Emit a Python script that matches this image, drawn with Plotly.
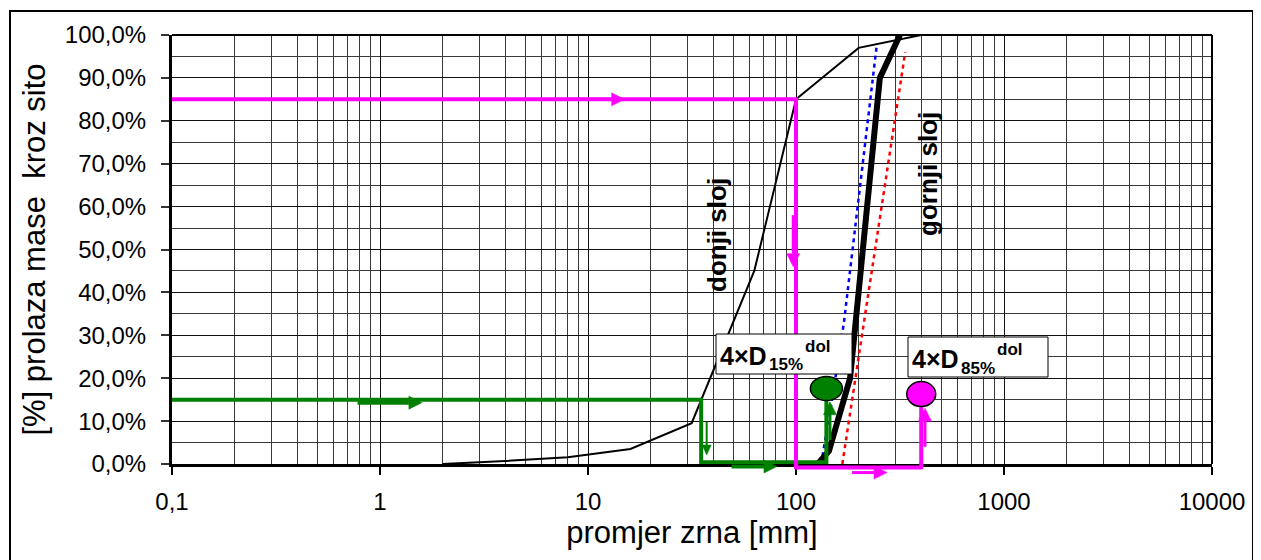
import math
import plotly.graph_objects as go

# ---------------- data ----------------
x_tick_vals = [0.1, 1, 10, 100, 1000, 10000]
x_tick_text = ["0,1", "1", "10", "100", "1000", "10000"]
x_minor_vals = [k * 10 ** e for e in range(-1, 4) for k in range(2, 10)]
y_tick_vals = [0, 10, 20, 30, 40, 50, 60, 70, 80, 90, 100]
y_tick_text = ["0,0%", "10,0%", "20,0%", "30,0%", "40,0%", "50,0%",
               "60,0%", "70,0%", "80,0%", "90,0%", "100,0%"]
y_minor_vals = [5, 15, 25, 35, 45, 55, 65, 75, 85, 95]

# donji sloj (lower layer) grading curve
donji_d = [2, 4, 8, 16, 31.5, 63, 100, 200, 400]
donji_p = [0, 0.7, 1.6, 3.5, 9.5, 45, 85, 97, 100]

# gornji sloj (upper layer) grading curve
gornji_d = [127, 144, 182, 253, 316]
gornji_p = [0, 3, 20, 90, 100]

# envelope curves (dotted)
lower_env_d = [132, 148, 170, 245]
lower_env_p = [0, 14, 33, 98]
upper_env_d = [167, 335]
upper_env_p = [0, 96]

# filter criteria
D15_dol = 35
D85_dol = 100
p15 = 15
p85 = 85
green_base_p = 0.4
magenta_base_p = -0.8
mark15_p = 17.6
mark85_p = 16.3

# direction arrows: (colour key, shaft width, tail x, tail y, tip x, tip y, direction)
arrow_specs = [
    ("m", 3, 8, 85, 15, 85, "right"),
    ("m", 3, 97, 58, 97, 46, "down"),
    ("m", 3, 186, -2.0, 274, -2.0, "right"),
    ("m", 3, 417, 4, 417, 13, "up"),
    ("g", 4, 0.78, 14.3, 1.59, 14.3, "right"),
    ("g", 2, 37.2, 9.9, 37.2, 2.1, "down"),
    ("g", 4, 49, -0.6, 81, -0.6, "right"),
    ("g", 3, 145.6, 5.6, 145.6, 14.5, "up"),
]

# label texts
label_main = "4×D"
label_subs = ["15%", "85%"]
label_sup = "dol"
layer_labels = ["donji sloj", "gornji sloj"]

MAG = "#FF00FF"
GRN = "#008000"
COLS = {"m": MAG, "g": GRN}
FONT = "Liberation Sans, Arial, sans-serif"

# layout geometry (pixels; page body adds an 8 px offset)
W, H = 1253, 552
ML, MR, MT, MB = 164, 49, 27, 96
PW = W - ML - MR
PH = H - MT - MB
X_DECADES = 5.0
PX_PER_DECADE = PW / X_DECADES
OFF = 8  # body margin of the page
SX0, SY0 = ML + OFF, MT + OFF + PH  # screen position of plot origin (bottom-left)


def xfac(px):
    return 10 ** (px / PX_PER_DECADE)


def ypap(px):
    return px / PH


def px2paper_x(sx):
    return (sx - SX0) / PW


def px2paper_y(sy):
    return (SY0 - sy) / PH


fig = go.Figure()

fig.add_trace(go.Scatter(x=donji_d, y=donji_p, mode="lines",
                         line=dict(color="black", width=2), showlegend=False))
fig.add_trace(go.Scatter(x=lower_env_d, y=lower_env_p, mode="lines",
                         line=dict(color="#0000FF", width=2.5, dash="4px,4px"), showlegend=False))
fig.add_trace(go.Scatter(x=upper_env_d, y=upper_env_p, mode="lines",
                         line=dict(color="#FF0000", width=2.5, dash="4px,4px"), showlegend=False))
fig.add_trace(go.Scatter(x=gornji_d, y=gornji_p, mode="lines",
                         line=dict(color="black", width=6), showlegend=False))

# green construction path
fig.add_trace(go.Scatter(x=[0.1, D15_dol, D15_dol, 4 * D15_dol, 4 * D15_dol],
                         y=[p15, p15, green_base_p, green_base_p, mark15_p],
                         mode="lines", line=dict(color=GRN, width=4), showlegend=False))
# magenta construction path
fig.add_trace(go.Scatter(x=[0.1, D85_dol, D85_dol], y=[p85, p85, 0],
                         mode="lines", line=dict(color=MAG, width=4), showlegend=False))
fig.add_trace(go.Scatter(x=[4 * D85_dol, 4 * D85_dol], y=[0, mark85_p],
                         mode="lines", line=dict(color=MAG, width=4), showlegend=False))

shapes = []
# magenta parts below the x axis
mb = magenta_base_p / 100.0
shapes.append(dict(type="line", xref="x", yref="paper", x0=D85_dol, x1=4 * D85_dol,
                   y0=mb, y1=mb, line=dict(color=MAG, width=4)))
shapes.append(dict(type="line", xref="x", yref="paper", x0=D85_dol, x1=D85_dol,
                   y0=0.003, y1=mb - 0.004, line=dict(color=MAG, width=4)))
shapes.append(dict(type="line", xref="x", yref="paper", x0=4 * D85_dol, x1=4 * D85_dol,
                   y0=0.003, y1=mb - 0.004, line=dict(color=MAG, width=4)))

# arrows: shaft line + filled triangular head
HL, HW = 13.0, 6.5
for ck, w, tx, ty, hx, hy, d in arrow_specs:
    col = COLS[ck]
    hl = HL if w >= 3 else 10.0
    hw = HW if w >= 3 else 4.5
    yt = hy / 100.0
    if d == "right":
        bx = hx / xfac(hl)
        pts = [(bx, yt - ypap(hw)), (hx, yt), (bx, yt + ypap(hw))]
        sx1, sy1 = bx, yt
    elif d == "down":
        by = yt + ypap(hl)
        pts = [(hx / xfac(hw), by), (hx, yt), (hx * xfac(hw), by)]
        sx1, sy1 = hx, by
    else:
        by = yt - ypap(hl)
        pts = [(hx / xfac(hw), by), (hx, yt), (hx * xfac(hw), by)]
        sx1, sy1 = hx, by
    shapes.append(dict(type="line", xref="x", yref="paper", x0=tx, x1=sx1,
                       y0=ty / 100.0, y1=sy1, line=dict(color=col, width=w)))
    path = "M {:.5f},{:.5f} L {:.5f},{:.5f} L {:.5f},{:.5f} Z".format(
        pts[0][0], pts[0][1], pts[1][0], pts[1][1], pts[2][0], pts[2][1])
    shapes.append(dict(type="path", xref="x", yref="paper", path=path,
                       fillcolor=col, line=dict(color=col, width=0.5)))

# ellipse markers (half sizes in pixels converted through the log scale)
for cx, cy, col, hw, hh in [(4 * D15_dol, mark15_p, GRN, 16, 12), (4 * D85_dol, mark85_p, MAG, 14.5, 12.5)]:
    f = xfac(hw)
    dy = hh / PH * 100.0
    shapes.append(dict(type="circle", xref="x", yref="y",
                       x0=cx / f, x1=cx * f, y0=cy - dy, y1=cy + dy,
                       fillcolor=col, line=dict(color="black", width=1.5), layer="above"))

# label boxes (screen px: left, top, right, bottom)
boxes = [(716, 334, 852, 374), (908, 337, 1048, 377)]
for bl, bt, br, bb in boxes:
    shapes.append(dict(type="rect", xref="paper", yref="paper",
                       x0=px2paper_x(bl), x1=px2paper_x(br),
                       y0=px2paper_y(bb), y1=px2paper_y(bt),
                       fillcolor="white", line=dict(color="black", width=1)))

# plot frame (top / right) and outer border
shapes.append(dict(type="line", xref="paper", yref="paper", x0=0, x1=1, y0=1, y1=1,
                   line=dict(color="black", width=2)))
shapes.append(dict(type="line", xref="paper", yref="paper", x0=1, x1=1, y0=0, y1=1,
                   line=dict(color="black", width=2)))
shapes.append(dict(type="rect", xref="paper", yref="paper",
                   x0=px2paper_x(10), x1=px2paper_x(1253),
                   y0=px2paper_y(564), y1=px2paper_y(11),
                   line=dict(color="black", width=2)))

annotations = []


def txt(text, sx, sy, size, angle=0, anchor="left"):
    return dict(xref="paper", yref="paper", x=px2paper_x(sx), y=px2paper_y(sy),
                xanchor=anchor, yanchor="middle", text="<b>" + text + "</b>",
                textangle=angle, showarrow=False, borderpad=0,
                font=dict(family=FONT, size=size, color="black"))


# box texts: main part, subscript, superscript (screen px left / vertical centre)
for (bl, bt, br, bb), sub in zip(boxes, label_subs):
    annotations.append(txt(label_main, bl + 3, bt + 22, 25))
    annotations.append(txt(sub, bl + 52, bt + 31, 17))
    annotations.append(txt(label_sup, bl + 88, bt + 12, 17))

# rotated layer labels
annotations.append(txt(layer_labels[0], 717, 235, 26, angle=-90, anchor="center"))
annotations.append(txt(layer_labels[1], 928, 174, 26, angle=-90, anchor="center"))

fig.update_layout(
    width=W, height=H,
    margin=dict(l=ML, r=MR, t=MT, b=MB, autoexpand=False),
    paper_bgcolor="white", plot_bgcolor="white",
    shapes=shapes, annotations=annotations,
    font=dict(family=FONT, color="black"),
    showlegend=False,
)

fig.update_xaxes(
    type="log", range=[-1, 4], automargin=False,
    tickvals=x_tick_vals, ticktext=x_tick_text,
    ticks="outside", ticklen=8, tickwidth=2, tickcolor="black",
    tickfont=dict(family=FONT, size=24, color="black"),
    ticklabelstandoff=6,
    showgrid=True, gridcolor="#111111", gridwidth=1,
    minor=dict(tickvals=x_minor_vals, showgrid=True, gridcolor="#3a3a3a", gridwidth=1, ticks=""),
    showline=True, linecolor="black", linewidth=3,
    zeroline=False,
    title=dict(text="promjer zrna [mm]", font=dict(family=FONT, size=31, color="black"), standoff=8),
)
fig.update_yaxes(
    range=[0, 100], automargin=False,
    tickvals=y_tick_vals, ticktext=y_tick_text,
    ticks="outside", ticklen=8, tickwidth=1.5, tickcolor="#333333",
    tickfont=dict(family=FONT, size=24, color="black"),
    ticklabelstandoff=10,
    showgrid=True, gridcolor="#111111", gridwidth=1,
    minor=dict(tickvals=y_minor_vals, showgrid=True, gridcolor="#3a3a3a", gridwidth=1, ticks=""),
    showline=True, linecolor="black", linewidth=3,
    zeroline=False,
    title=dict(text="[%] prolaza mase\u00a0\u00a0kroz sito", font=dict(family=FONT, size=31, color="black"), standoff=10),
)

fig.write_html("out.html", config={"displayModeBar": False})
